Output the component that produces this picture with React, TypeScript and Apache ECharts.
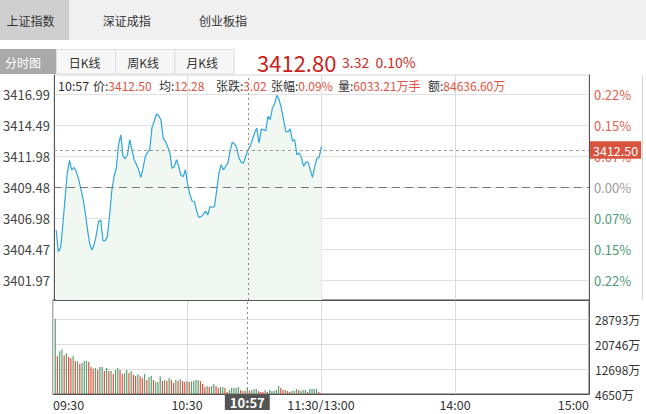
import React, { useEffect, useRef } from 'react';
import * as echarts from 'echarts';

const FONT = '"Noto Sans CJK SC", "Noto Sans", sans-serif';

// ---- header texts ----
const tabNames = ['上证指数', '深证成指', '创业板指'];
const viewNames = ['分时图', '日K线', '周K线', '月K线'];
const lastPrice = '3412.80';
const lastChange = '3.32';
const lastChangePct = '0.10%';

// ---- crosshair info ----
const crossTime = '10:57';
const crossPrice = 3412.5;
const infoItems: [string, string][] = [
  ['价', '3412.50'],
  ['均', '12.28'],
  ['张跌', '3.02'],
  ['张幅', '0.09%'],
  ['量', '6033.21万手'],
  ['额', '84636.60万'],
];

// ---- axes ----
const prevClose = 3409.48;
const priceMin = 3400.39;
const priceMax = 3418.57;
const priceTicks = [3401.97, 3404.47, 3406.98, 3409.48, 3411.98, 3414.49, 3416.99];
const pctTickLabels = ['0.22%', '0.15%', '0.07%', '0.00%', '0.07%', '0.15%', '0.22%'];
const volMin = 4650;
const volMax = 35030;
const volTicks = [4650, 12698, 20746, 28793];
const xLabelTimes = ['09:30', '10:30', '11:30', '14:00', '15:00'];

// ---- minute data from 09:31 ----
const prices = [
  3406.05, 3404.30, 3404.62, 3406.45, 3408.61, 3410.64, 3411.67, 3410.91, 3411.10, 3410.78,
  3410.23, 3409.42, 3408.61, 3407.54, 3406.18, 3404.97, 3404.43, 3404.83, 3405.64, 3406.73,
  3406.86, 3405.19, 3405.19, 3405.51, 3407.26, 3409.29, 3410.37, 3411.04, 3412.93, 3413.74,
  3411.99, 3411.80, 3412.12, 3413.34, 3412.53, 3411.72, 3411.37, 3410.91, 3410.29, 3411.04,
  3411.99, 3412.34, 3412.53, 3414.34, 3414.83, 3415.42, 3415.28, 3414.96, 3413.47, 3413.21,
  3412.80, 3412.26, 3411.04, 3411.18, 3411.72, 3411.18, 3410.45, 3410.37, 3410.91, 3409.70,
  3408.90, 3408.39, 3408.35, 3407.60, 3407.07, 3407.13, 3407.31, 3407.58, 3407.26, 3407.94,
  3407.88, 3407.94, 3409.20, 3410.64, 3411.31, 3410.91, 3411.18, 3411.45, 3412.40, 3413.15,
  3412.99, 3412.72, 3411.85, 3411.53, 3411.45, 3411.99, 3412.50, 3412.80, 3413.34, 3413.88,
  3414.28, 3413.07, 3414.20, 3414.15, 3414.06, 3415.23, 3414.96, 3415.90, 3416.23, 3416.93,
  3416.58, 3415.90, 3414.96, 3414.02, 3413.96, 3414.22, 3413.25, 3413.34, 3412.12, 3412.26,
  3411.91, 3411.18, 3411.53, 3411.53, 3410.91, 3410.29, 3411.18, 3411.85, 3411.93, 3412.80,
];

const volumes = [
  28987, 16932, 18451, 19097, 17158, 17804, 16608, 16189, 16932, 15219,
  15219, 14346, 14670, 15316, 15316, 14993, 13377, 12827, 13054, 12407,
  13377, 13377, 12084, 13054, 12084, 12084, 11114, 12407, 13054, 12407,
  11114, 11341, 12407, 11437, 12084, 10888, 10468, 11114, 10371, 9822,
  11114, 9175, 10145, 10468, 9175, 8529, 8529, 10371, 8852, 9175,
  8852, 9822, 9175, 8206, 9175, 8852, 9498, 8852, 8529, 8852,
  8529, 8755, 8852, 9175, 9175, 8852, 7882, 6913, 7236, 6913,
  7236, 7882, 7236, 6590, 6913, 6913, 6590, 5297, 5943, 6590,
  6590, 6590, 6913, 5943, 5620, 5717, 6590, 5717, 5943, 6266,
  6266, 5620, 5297, 5297, 5943, 5297, 5943, 5620, 5620, 5943,
  7236, 6590, 5943, 5943, 5620, 5297, 5620, 5620, 6266, 5943,
  5620, 5943, 5943, 5297, 6266, 6266, 6266, 6266, 5297, 4973,
];

// 'u' = up (red), 'd' = down (green)
const volSide = [
  'd', 'u', 'd', 'd', 'u', 'd', 'u', 'u', 'd', 'u',
  'd', 'u', 'd', 'd', 'd', 'u', 'u', 'u', 'd', 'u',
  'd', 'd', 'u', 'd', 'u', 'd', 'u', 'd', 'd', 'u',
  'u', 'd', 'd', 'u', 'd', 'u', 'u', 'd', 'u', 'u',
  'd', 'u', 'd', 'd', 'u', 'd', 'd', 'd', 'u', 'd',
  'u', 'd', 'u', 'u', 'd', 'u', 'd', 'u', 'u', 'd',
  'u', 'd', 'd', 'd', 'd', 'u', 'u', 'u', 'd', 'u',
  'd', 'd', 'u', 'u', 'd', 'd', 'u', 'u', 'd', 'd',
  'd', 'd', 'd', 'u', 'd', 'u', 'd', 'u', 'd', 'd',
  'd', 'u', 'u', 'u', 'd', 'u', 'd', 'd', 'd', 'd',
  'd', 'u', 'u', 'd', 'u', 'u', 'd', 'd', 'd', 'u',
  'd', 'd', 'd', 'u', 'd', 'd', 'd', 'd', 'u', 'u',
];

const times: string[] = [];
for (let i = 0; i <= 240; i++) {
  const m = i <= 120 ? 9 * 60 + 30 + i : 13 * 60 + (i - 120);
  times.push(String(Math.floor(m / 60)).padStart(2, '0') + ':' + String(m % 60).padStart(2, '0'));
}

// layout of the info line (left x of each item)
const infoX = [93, 159, 216, 271, 338, 428];

const RED = '#e0503c';
const GREEN = '#5a9e72';
const LINE_BLUE = '#2fa6dc';
const INFO_SIZE = 12;

export default function App() {
  const ref = useRef<HTMLDivElement>(null);
  useEffect(() => {
    if (!ref.current) return;
    const chart = echarts.init(ref.current, undefined, { renderer: 'svg' });

    const showX = (_i: number, v: string) => xLabelTimes.includes(v);
    const richInfo = {
      k: { fill: '#333', fontSize: INFO_SIZE, fontFamily: FONT },
      v: { fill: '#e0533f', fontSize: INFO_SIZE, fontFamily: FONT },
    };

    const option: any = {
      animation: false,
      textStyle: { fontFamily: FONT },
      grid: [
        { left: 53, right: 57, top: 75, height: 225, show: true, borderColor: '#d4d4d4', borderWidth: 1 },
        { left: 53, right: 57, top: 300, height: 94, show: true, borderColor: '#555', borderWidth: 1 },
      ],
      xAxis: [
        {
          type: 'category', gridIndex: 0, data: times, boundaryGap: false,
          axisLine: { show: true, lineStyle: { color: '#555' } },
          axisTick: { show: false }, axisLabel: { show: false },
          splitLine: { show: true, interval: showX, lineStyle: { color: '#dcdcdc' } },
        },
        {
          type: 'category', gridIndex: 1, data: times, boundaryGap: false,
          axisLine: { show: true, lineStyle: { color: '#555' } },
          axisTick: { show: false },
          axisLabel: {
            interval: showX, margin: 4, color: '#333', fontSize: 12.5, fontFamily: FONT,
            formatter: (v: string) => (v === '11:30' ? '11:30/13:00' : v),
            alignMinLabel: 'left', alignMaxLabel: 'right',
          },
          splitLine: { show: true, interval: showX, lineStyle: { color: '#dcdcdc' } },
        },
      ],
      yAxis: [
        {
          type: 'value', gridIndex: 0, position: 'left', min: priceMin, max: priceMax, scale: true,
          axisLine: { show: true, lineStyle: { color: '#555' } },
          axisTick: { show: false, customValues: priceTicks },
          axisLabel: {
            customValues: priceTicks, margin: 4, color: '#444', fontSize: 13, fontFamily: FONT,
            formatter: (v: number) => v.toFixed(2),
          },
          splitLine: { show: true, lineStyle: { color: '#e2e2e2' } },
        },
        {
          type: 'value', gridIndex: 0, position: 'right', min: priceMin, max: priceMax, scale: true,
          axisLine: { show: true, lineStyle: { color: '#555' } },
          axisTick: { show: false, customValues: priceTicks },
          axisLabel: {
            customValues: priceTicks, margin: 5, fontSize: 13, fontFamily: FONT,
            formatter: (v: number) => {
              const i = priceTicks.findIndex((t) => Math.abs(t - v) < 1e-6);
              return i >= 0 ? pctTickLabels[pctTickLabels.length - 1 - i] : '';
            },
            color: (v: any) => {
              const n = Number(v);
              if (Math.abs(n - prevClose) < 1e-6) return '#999';
              return n > prevClose ? '#e0604e' : '#4f9b78';
            },
          },
          splitLine: { show: false },
        },
        {
          type: 'value', gridIndex: 1, position: 'right', min: volMin, max: volMax,
          axisLine: { show: true, lineStyle: { color: '#555' } },
          axisTick: { show: false, customValues: volTicks },
          axisLabel: {
            customValues: volTicks, margin: 6, color: '#333', fontSize: 12, fontFamily: FONT,
            formatter: (v: number) => Math.round(v) + '万',
          },
          splitLine: { show: true, lineStyle: { color: '#dcdcdc' } },
        },
      ],
      series: [
        {
          type: 'line', xAxisIndex: 0, yAxisIndex: 0,
          data: [null, ...prices],
          showSymbol: false, symbol: 'none',
          lineStyle: { color: LINE_BLUE, width: 1.2 },
          areaStyle: { color: '#f1f8f1', opacity: 1, origin: 'start' },
          markLine: {
            silent: true, symbol: 'none', animation: false,
            data: [
              { yAxis: prevClose, lineStyle: { color: '#777', type: [8, 5], width: 1 }, label: { show: false } },
              {
                yAxis: crossPrice, lineStyle: { color: '#999', type: [3, 3], width: 1 },
                label: {
                  show: true, position: 'end', distance: 1,
                  formatter: () => crossPrice.toFixed(2),
                  backgroundColor: '#d9543f', color: '#fff', padding: [3, 3, 2, 3],
                  fontSize: 12.5, fontFamily: FONT,
                },
              },
              { xAxis: crossTime, lineStyle: { color: '#888', type: [2, 3], width: 1 }, label: { show: false } },
            ],
          },
          z: 3,
        },
        {
          type: 'bar', xAxisIndex: 1, yAxisIndex: 2,
          barWidth: 1.2,
          data: [null, ...volumes.map((v, i) => ({
            value: v,
            itemStyle: { color: volSide[i] === 'u' ? RED : GREEN },
          }))],
          markLine: {
            silent: true, symbol: 'none', animation: false,
            data: [
              {
                xAxis: crossTime, lineStyle: { color: '#888', type: [2, 3], width: 1 },
                label: {
                  show: true, position: 'start', distance: 0,
                  formatter: crossTime,
                  backgroundColor: '#555', color: '#fff', padding: [2, 5, 1, 5],
                  fontSize: 13, fontWeight: 'bold', fontFamily: FONT,
                },
              },
            ],
          },
        },
      ],
      graphic: [
        { type: 'rect', shape: { x: 0, y: 0, width: 646, height: 40 }, style: { fill: '#f0f0f0' }, silent: true },
        { type: 'rect', shape: { x: 0, y: 0, width: 69, height: 40 }, style: { fill: '#cfcfcf' }, silent: true },
        ...tabNames.map((t, i) => ({
          type: 'text', x: [30.5, 126.7, 223][i], y: 20,
          style: { text: t, fill: '#333', fontSize: 12, fontFamily: FONT, textAlign: 'center', textVerticalAlign: 'middle' },
          silent: true,
        })),
        { type: 'rect', shape: { x: 0, y: 49, width: 56, height: 25 }, style: { fill: '#a9a9a9' }, silent: true },
        ...[0, 1, 2].map((i) => ({
          type: 'rect',
          shape: { x: 56.5 + i * 59.2, y: 49.5, width: 59.2, height: 24.5 },
          style: { fill: '#f7f7f7', stroke: '#dedede', lineWidth: 1 },
          silent: true,
        })),
        ...viewNames.map((t, i) => ({
          type: 'text', x: [5, 84.5, 143, 202][i], y: 62,
          style: {
            text: t, fill: i === 0 ? '#fff' : '#333', fontSize: 12, fontFamily: FONT,
            textAlign: i === 0 ? 'left' : 'center', textVerticalAlign: 'middle',
          },
          silent: true,
        })),
        {
          type: 'text', x: 257, y: 62,
          style: { text: lastPrice, fill: '#cc1f1c', fontSize: 22, fontFamily: FONT, textVerticalAlign: 'middle' },
          silent: true,
        },
        {
          type: 'text', x: 342, y: 62,
          style: {
            text: lastChange + '  ' + lastChangePct, fill: '#cc2a24', fontSize: 14, fontFamily: FONT,
            textVerticalAlign: 'middle',
          },
          silent: true,
        },
        {
          type: 'text', x: 58, y: 85,
          style: { text: crossTime, fill: '#333', fontSize: 12.5, fontFamily: FONT, textVerticalAlign: 'middle' },
          silent: true, z: 10,
        },
        ...infoItems.map(([k, v], i) => ({
          type: 'text', x: infoX[i], y: 85,
          style: {
            text: '{k|' + k + ':}{v|' + v + '}', textVerticalAlign: 'middle', fontSize: INFO_SIZE, fontFamily: FONT,
            rich: richInfo,
          },
          silent: true, z: 10,
        })),
        {
          type: 'line', shape: { x1: 642.5, y1: 75, x2: 642.5, y2: 300 },
          style: { stroke: '#d8d8d8', lineWidth: 1 }, silent: true,
        },
      ],
    };
    chart.setOption(option);
    return () => chart.dispose();
  }, []);
  return (
    <div
      ref={ref}
      style={{ position: 'fixed', left: 0, top: 0, width: 646, height: 414, background: '#fff' }}
    />
  );
}
